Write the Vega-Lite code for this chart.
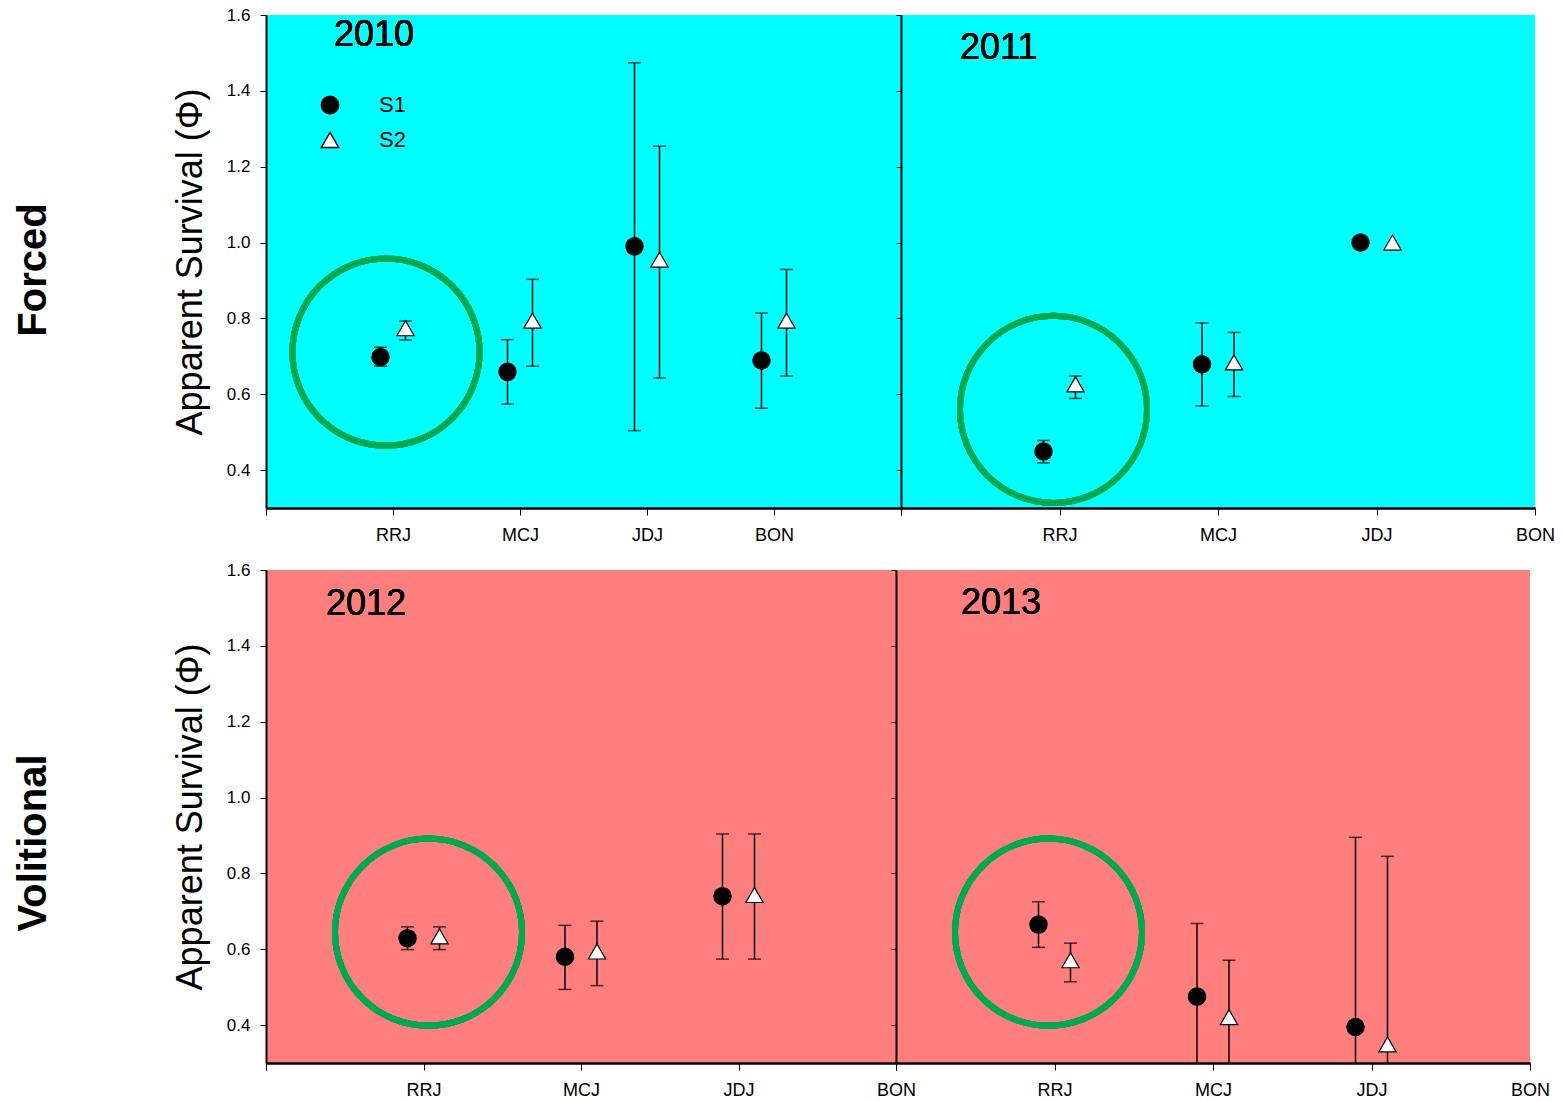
{
  "$schema": "https://vega.github.io/schema/vega-lite/v6.json",
  "background": "white",
  "padding": {"left": 14, "top": 6, "right": 5, "bottom": 2},
  "config": {
    "font": "Liberation Sans",
    "view": {"stroke": null},
    "axis": {"grid": false, "domainColor": "black", "tickColor": "black", "labelColor": "black", "titleColor": "black", "labelFont": "Liberation Sans", "titleFont": "Liberation Sans", "titleFontWeight": "normal"},
    "title": {"font": "Liberation Sans", "color": "black"}
  },
  "datasets": {
    "surv": [
      {"year": "2010", "site": "RRJ", "group": "S1", "phi": 0.698, "lo": 0.674, "hi": 0.724},
      {"year": "2010", "site": "RRJ", "group": "S2", "phi": 0.774, "lo": 0.743, "hi": 0.793},
      {"year": "2010", "site": "MCJ", "group": "S1", "phi": 0.659, "lo": 0.574, "hi": 0.744},
      {"year": "2010", "site": "MCJ", "group": "S2", "phi": 0.794, "lo": 0.674, "hi": 0.903},
      {"year": "2010", "site": "JDJ", "group": "S1", "phi": 0.990, "lo": 0.504, "hi": 1.474},
      {"year": "2010", "site": "JDJ", "group": "S2", "phi": 0.955, "lo": 0.643, "hi": 1.254},
      {"year": "2010", "site": "BON", "group": "S1", "phi": 0.689, "lo": 0.563, "hi": 0.814},
      {"year": "2010", "site": "BON", "group": "S2", "phi": 0.794, "lo": 0.648, "hi": 0.929},
      {"year": "2011", "site": "RRJ", "group": "S1", "phi": 0.449, "lo": 0.419, "hi": 0.478},
      {"year": "2011", "site": "RRJ", "group": "S2", "phi": 0.626, "lo": 0.589, "hi": 0.648},
      {"year": "2011", "site": "MCJ", "group": "S1", "phi": 0.679, "lo": 0.569, "hi": 0.788},
      {"year": "2011", "site": "MCJ", "group": "S2", "phi": 0.684, "lo": 0.594, "hi": 0.763},
      {"year": "2011", "site": "JDJ", "group": "S1", "phi": 1.0},
      {"year": "2011", "site": "JDJ", "group": "S2", "phi": 1.0},
      {"year": "2012", "site": "RRJ", "group": "S1", "phi": 0.629, "lo": 0.599, "hi": 0.659},
      {"year": "2012", "site": "RRJ", "group": "S2", "phi": 0.634, "lo": 0.599, "hi": 0.659},
      {"year": "2012", "site": "MCJ", "group": "S1", "phi": 0.580, "lo": 0.494, "hi": 0.663},
      {"year": "2012", "site": "MCJ", "group": "S2", "phi": 0.594, "lo": 0.504, "hi": 0.674},
      {"year": "2012", "site": "JDJ", "group": "S1", "phi": 0.740, "lo": 0.574, "hi": 0.904},
      {"year": "2012", "site": "JDJ", "group": "S2", "phi": 0.743, "lo": 0.574, "hi": 0.904},
      {"year": "2013", "site": "RRJ", "group": "S1", "phi": 0.665, "lo": 0.605, "hi": 0.725},
      {"year": "2013", "site": "RRJ", "group": "S2", "phi": 0.571, "lo": 0.514, "hi": 0.616},
      {"year": "2013", "site": "MCJ", "group": "S1", "phi": 0.475, "lo": 0.282, "hi": 0.668},
      {"year": "2013", "site": "MCJ", "group": "S2", "phi": 0.421, "lo": 0.271, "hi": 0.571},
      {"year": "2013", "site": "JDJ", "group": "S1", "phi": 0.395, "lo": -0.105, "hi": 0.895},
      {"year": "2013", "site": "JDJ", "group": "S2", "phi": 0.349, "lo": -0.147, "hi": 0.845}
    ]
  },
  "spacing": 17,
  "vconcat": [
    {
      "bounds": "flush",
      "spacing": 0,
      "title": {"text": "Forced", "orient": "left", "anchor": "middle", "fontSize": 40, "fontWeight": "bold", "offset": 118, "dx": 5},
      "hconcat": [
        {
          "width": 635, "height": 493,
          "view": {"fill": "#00FFFF", "stroke": null},
          "data": {"name": "surv"},
          "transform": [{"filter": "datum.year == '2010'"}],
          "encoding": {
            "x": {"field": "site", "type": "nominal", "scale": {"type": "point", "domain": ["a0", "RRJ", "MCJ", "JDJ", "BON", "a5"], "padding": 0},
                  "axis": {"title": null, "labelAngle": 0, "labelExpr": "indexof(['RRJ','MCJ','JDJ','BON'], datum.value) >= 0 ? datum.value : ''", "labelFontSize": 18, "labelPadding": 11, "tickSize": 7, "tickWidth": 1, "domainWidth": 2.5}},
            "y": {"field": "phi", "type": "quantitative", "scale": {"domain": [0.3, 1.6], "zero": false, "nice": false},
                  "axis": {"title": "Apparent Survival (Φ)", "titleFontSize": 36, "titlePadding": 17, "values": [0.4, 0.6, 0.8, 1.0, 1.2, 1.4, 1.6], "format": ".1f", "labelFontSize": 17, "tickSize": 6, "labelPadding": 10, "domainWidth": 2}}
          },
          "layer": [
            {"mark": {"type": "point", "shape": "circle", "size": 35000, "filled": false, "stroke": "#00A84F", "strokeWidth": 6, "opacity": 1, "xOffset": -7},
             "encoding": {"x": {"datum": "RRJ"}, "y": {"datum": 0.711}}},
            {"mark": {"type": "text", "text": "2010", "fontSize": 36, "align": "left", "baseline": "middle", "dx": 68, "color": "black"},
             "encoding": {"x": {"datum": "a0"}, "y": {"datum": 1.547}}},
            {"mark": {"type": "rule", "color": "black", "strokeWidth": 1.5, "clip": true},
             "encoding": {"y": {"field": "lo", "type": "quantitative"}, "y2": {"field": "hi"}, "xOffset": {"value": {"expr": "datum.group === 'S1' ? -12.5 : 12.5"}}}},
            {"mark": {"type": "tick", "orient": "horizontal", "size": 13, "thickness": 1.5, "color": "black", "clip": true},
             "encoding": {"y": {"field": "hi", "type": "quantitative"}, "xOffset": {"value": {"expr": "datum.group === 'S1' ? -12.5 : 12.5"}}}},
            {"mark": {"type": "tick", "orient": "horizontal", "size": 13, "thickness": 1.5, "color": "black", "clip": true},
             "encoding": {"y": {"field": "lo", "type": "quantitative"}, "xOffset": {"value": {"expr": "datum.group === 'S1' ? -12.5 : 12.5"}}}},
            {"mark": {"type": "point", "filled": true, "size": 300, "stroke": "black", "strokeWidth": 1.2, "opacity": 1},
             "encoding": {
               "shape": {"field": "group", "type": "nominal", "scale": {"domain": ["S1", "S2"], "range": ["circle", "triangle-up"]},
                         "legend": {"title": null, "orient": "none", "legendX": 53, "legendY": 79, "padding": 0, "labelFontSize": 22, "labelFont": "Liberation Sans", "labelColor": "black", "symbolSize": 300, "labelOffset": 38, "rowPadding": 12, "encode": {"symbols": {"update": {"stroke": {"value": "black"}, "strokeWidth": {"value": 1.2}}}}}},
               "fill": {"field": "group", "type": "nominal", "scale": {"domain": ["S1", "S2"], "range": ["black", "white"]},
                         "legend": {"title": null, "orient": "none", "legendX": 53, "legendY": 79, "padding": 0, "labelFontSize": 22, "labelFont": "Liberation Sans", "labelColor": "black", "symbolSize": 300, "labelOffset": 38, "rowPadding": 12, "encode": {"symbols": {"update": {"stroke": {"value": "black"}, "strokeWidth": {"value": 1.2}}}}}},
               "xOffset": {"value": {"expr": "datum.group === 'S1' ? -12.5 : 12.5"}}
             }}
          ]
        },
        {
          "width": 634, "height": 493,
          "view": {"fill": "#00FFFF", "stroke": null},
          "data": {"name": "surv"},
          "transform": [{"filter": "datum.year == '2011'"}],
          "encoding": {
            "x": {"field": "site", "type": "nominal", "scale": {"type": "point", "domain": ["a0", "RRJ", "MCJ", "JDJ", "BON"], "padding": 0},
                  "axis": {"title": null, "labelAngle": 0, "labelExpr": "indexof(['RRJ','MCJ','JDJ','BON'], datum.value) >= 0 ? datum.value : ''", "labelFontSize": 18, "labelPadding": 11, "tickSize": 7, "tickWidth": 1, "domainWidth": 2.5}},
            "y": {"field": "phi", "type": "quantitative", "scale": {"domain": [0.3, 1.6], "zero": false, "nice": false},
                  "axis": {"title": null, "labels": false, "values": [0.4, 0.6, 0.8, 1.0, 1.2, 1.4, 1.6], "tickSize": 5, "domainWidth": 2}}
          },
          "layer": [
            {"mark": {"type": "point", "shape": "circle", "size": 35000, "filled": false, "stroke": "#00A84F", "strokeWidth": 6, "opacity": 1, "xOffset": -6},
             "encoding": {"x": {"datum": "RRJ"}, "y": {"datum": 0.56}}},
            {"mark": {"type": "text", "text": "2011", "fontSize": 36, "align": "left", "baseline": "middle", "dx": 59, "color": "black"},
             "encoding": {"x": {"datum": "a0"}, "y": {"datum": 1.513}}},
            {"mark": {"type": "rule", "color": "black", "strokeWidth": 1.5, "clip": true},
             "encoding": {"y": {"field": "lo", "type": "quantitative"}, "y2": {"field": "hi"}, "xOffset": {"value": {"expr": "datum.group === 'S1' ? -16 : 16"}}}},
            {"mark": {"type": "tick", "orient": "horizontal", "size": 13, "thickness": 1.5, "color": "black", "clip": true},
             "encoding": {"y": {"field": "hi", "type": "quantitative"}, "xOffset": {"value": {"expr": "datum.group === 'S1' ? -16 : 16"}}}},
            {"mark": {"type": "tick", "orient": "horizontal", "size": 13, "thickness": 1.5, "color": "black", "clip": true},
             "encoding": {"y": {"field": "lo", "type": "quantitative"}, "xOffset": {"value": {"expr": "datum.group === 'S1' ? -16 : 16"}}}},
            {"mark": {"type": "point", "filled": true, "size": 300, "stroke": "black", "strokeWidth": 1.2, "opacity": 1},
             "encoding": {
               "shape": {"field": "group", "type": "nominal", "scale": {"domain": ["S1", "S2"], "range": ["circle", "triangle-up"]}, "legend": null},
               "fill": {"field": "group", "type": "nominal", "scale": {"domain": ["S1", "S2"], "range": ["black", "white"]}, "legend": null},
               "xOffset": {"value": {"expr": "datum.group === 'S1' ? -16 : 16"}}
             }}
          ]
        }
      ]
    },
    {
      "bounds": "flush",
      "spacing": 0,
      "title": {"text": "Volitional", "orient": "left", "anchor": "middle", "fontSize": 40, "fontWeight": "bold", "offset": 118, "dx": -13},
      "hconcat": [
        {
          "width": 630, "height": 493,
          "view": {"fill": "#FF7F7F", "stroke": null},
          "data": {"name": "surv"},
          "transform": [{"filter": "datum.year == '2012'"}],
          "encoding": {
            "x": {"field": "site", "type": "nominal", "scale": {"type": "point", "domain": ["a0", "RRJ", "MCJ", "JDJ", "BON"], "padding": 0},
                  "axis": {"title": null, "labelAngle": 0, "labelExpr": "indexof(['RRJ','MCJ','JDJ','BON'], datum.value) >= 0 ? datum.value : ''", "labelFontSize": 18, "labelPadding": 11, "tickSize": 7, "tickWidth": 1, "domainWidth": 2.5}},
            "y": {"field": "phi", "type": "quantitative", "scale": {"domain": [0.3, 1.6], "zero": false, "nice": false},
                  "axis": {"title": "Apparent Survival (Φ)", "titleFontSize": 36, "titlePadding": 17, "values": [0.4, 0.6, 0.8, 1.0, 1.2, 1.4, 1.6], "format": ".1f", "labelFontSize": 17, "tickSize": 6, "labelPadding": 10, "domainWidth": 2}}
          },
          "layer": [
            {"mark": {"type": "point", "shape": "circle", "size": 35000, "filled": false, "stroke": "#00A84F", "strokeWidth": 6, "opacity": 1, "xOffset": 5},
             "encoding": {"x": {"datum": "RRJ"}, "y": {"datum": 0.645}}},
            {"mark": {"type": "text", "text": "2012", "fontSize": 36, "align": "left", "baseline": "middle", "dx": 60, "color": "black"},
             "encoding": {"x": {"datum": "a0"}, "y": {"datum": 1.51}}},
            {"mark": {"type": "rule", "color": "black", "strokeWidth": 1.5, "clip": true},
             "encoding": {"y": {"field": "lo", "type": "quantitative"}, "y2": {"field": "hi"}, "xOffset": {"value": {"expr": "datum.group === 'S1' ? -16 : 16"}}}},
            {"mark": {"type": "tick", "orient": "horizontal", "size": 13, "thickness": 1.5, "color": "black", "clip": true},
             "encoding": {"y": {"field": "hi", "type": "quantitative"}, "xOffset": {"value": {"expr": "datum.group === 'S1' ? -16 : 16"}}}},
            {"mark": {"type": "tick", "orient": "horizontal", "size": 13, "thickness": 1.5, "color": "black", "clip": true},
             "encoding": {"y": {"field": "lo", "type": "quantitative"}, "xOffset": {"value": {"expr": "datum.group === 'S1' ? -16 : 16"}}}},
            {"mark": {"type": "point", "filled": true, "size": 300, "stroke": "black", "strokeWidth": 1.2, "opacity": 1},
             "encoding": {
               "shape": {"field": "group", "type": "nominal", "scale": {"domain": ["S1", "S2"], "range": ["circle", "triangle-up"]}, "legend": null},
               "fill": {"field": "group", "type": "nominal", "scale": {"domain": ["S1", "S2"], "range": ["black", "white"]}, "legend": null},
               "xOffset": {"value": {"expr": "datum.group === 'S1' ? -16 : 16"}}
             }}
          ]
        },
        {
          "width": 634, "height": 493,
          "view": {"fill": "#FF7F7F", "stroke": null},
          "data": {"name": "surv"},
          "transform": [{"filter": "datum.year == '2013'"}],
          "encoding": {
            "x": {"field": "site", "type": "nominal", "scale": {"type": "point", "domain": ["a0", "RRJ", "MCJ", "JDJ", "BON"], "padding": 0},
                  "axis": {"title": null, "labelAngle": 0, "labelExpr": "indexof(['RRJ','MCJ','JDJ','BON'], datum.value) >= 0 ? datum.value : ''", "labelFontSize": 18, "labelPadding": 11, "tickSize": 7, "tickWidth": 1, "domainWidth": 2.5}},
            "y": {"field": "phi", "type": "quantitative", "scale": {"domain": [0.3, 1.6], "zero": false, "nice": false},
                  "axis": {"title": null, "labels": false, "values": [0.4, 0.6, 0.8, 1.0, 1.2, 1.4, 1.6], "tickSize": 5, "domainWidth": 2}}
          },
          "layer": [
            {"mark": {"type": "point", "shape": "circle", "size": 35000, "filled": false, "stroke": "#00A84F", "strokeWidth": 6, "opacity": 1, "xOffset": -6},
             "encoding": {"x": {"datum": "RRJ"}, "y": {"datum": 0.645}}},
            {"mark": {"type": "text", "text": "2013", "fontSize": 36, "align": "left", "baseline": "middle", "dx": 65, "color": "black"},
             "encoding": {"x": {"datum": "a0"}, "y": {"datum": 1.513}}},
            {"mark": {"type": "rule", "color": "black", "strokeWidth": 1.5, "clip": true},
             "encoding": {"y": {"field": "lo", "type": "quantitative"}, "y2": {"field": "hi"}, "xOffset": {"value": {"expr": "datum.group === 'S1' ? -16 : 16"}}}},
            {"mark": {"type": "tick", "orient": "horizontal", "size": 13, "thickness": 1.5, "color": "black", "clip": true},
             "encoding": {"y": {"field": "hi", "type": "quantitative"}, "xOffset": {"value": {"expr": "datum.group === 'S1' ? -16 : 16"}}}},
            {"mark": {"type": "tick", "orient": "horizontal", "size": 13, "thickness": 1.5, "color": "black", "clip": true},
             "encoding": {"y": {"field": "lo", "type": "quantitative"}, "xOffset": {"value": {"expr": "datum.group === 'S1' ? -16 : 16"}}}},
            {"mark": {"type": "point", "filled": true, "size": 300, "stroke": "black", "strokeWidth": 1.2, "opacity": 1},
             "encoding": {
               "shape": {"field": "group", "type": "nominal", "scale": {"domain": ["S1", "S2"], "range": ["circle", "triangle-up"]}, "legend": null},
               "fill": {"field": "group", "type": "nominal", "scale": {"domain": ["S1", "S2"], "range": ["black", "white"]}, "legend": null},
               "xOffset": {"value": {"expr": "datum.group === 'S1' ? -16 : 16"}}
             }}
          ]
        }
      ]
    }
  ]
}
